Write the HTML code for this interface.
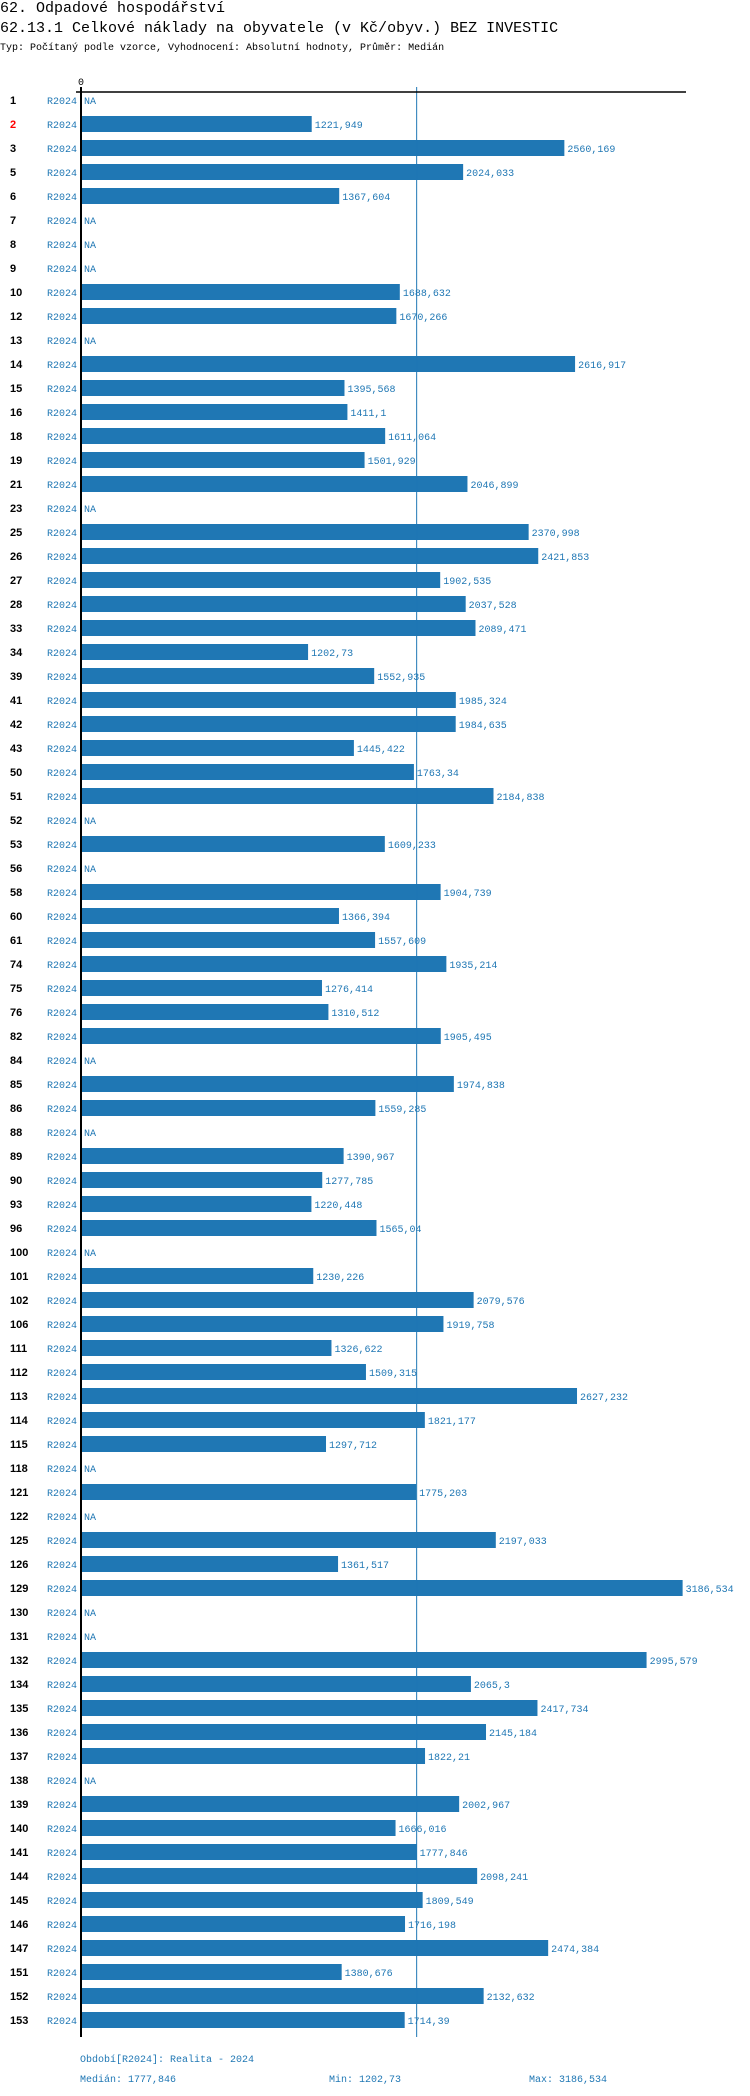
<!DOCTYPE html>
<html><head><meta charset="utf-8">
<style>
body{margin:0;background:#fff;width:750px;height:2096px;overflow:hidden;font-family:"Liberation Mono",monospace;}
.t{position:absolute;left:0;white-space:pre;color:#000}
svg{position:absolute;left:0;top:0}
</style></head><body>
<div class="t" style="top:0px;font-size:15px">62. Odpadové hospodářství</div>
<div class="t" style="top:20px;font-size:15px">62.13.1 Celkové náklady na obyvatele (v Kč/obyv.) BEZ INVESTIC</div>
<div class="t" style="top:43px;font-size:10px">Typ: Počítaný podle vzorce, Vyhodnocení: Absolutní hodnoty, Průměr: Medián</div>
<svg id="chart" width="750" height="2096"></svg>
<script>
const categories=[1,2,3,5,6,7,8,9,10,12,13,14,15,16,18,19,21,23,25,26,27,28,33,34,39,41,42,43,50,51,52,53,56,58,60,61,74,75,76,82,84,85,86,88,89,90,93,96,100,101,102,106,111,112,113,114,115,118,121,122,125,126,129,130,131,132,134,135,136,137,138,139,140,141,144,145,146,147,151,152,153];
const values=[null,1221.949,2560.169,2024.033,1367.604,null,null,null,1688.632,1670.266,null,2616.917,1395.568,1411.1,1611.064,1501.929,2046.899,null,2370.998,2421.853,1902.535,2037.528,2089.471,1202.73,1552.935,1985.324,1984.635,1445.422,1763.34,2184.838,null,1609.233,null,1904.739,1366.394,1557.609,1935.214,1276.414,1310.512,1905.495,null,1974.838,1559.285,null,1390.967,1277.785,1220.448,1565.04,null,1230.226,2079.576,1919.758,1326.622,1509.315,2627.232,1821.177,1297.712,null,1775.203,null,2197.033,1361.517,3186.534,null,null,2995.579,2065.3,2417.734,2145.184,1822.21,null,2002.967,1666.016,1777.846,2098.241,1809.549,1716.198,2474.384,1380.676,2132.632,1714.39];
const highlighted=[2];
const median=1777.846, minV=1202.73, maxV=3186.534;
const NS="http://www.w3.org/2000/svg";
const svg=document.getElementById('chart');
const x0=81, k=0.1888;
function xs(v){return x0+v*k;}
function yc(i){return 100+24*i;}
function fmt(v){return String(v).replace('.',',');}
function mk(tag,attrs,txt){const e=document.createElementNS(NS,tag);for(const a in attrs)e.setAttribute(a,attrs[a]);if(txt!==undefined)e.textContent=txt;svg.appendChild(e);return e;}
const blue="#1f77b4";
categories.forEach((c,i)=>{
  const y=yc(i);
  const lab=mk('text',{x:10,y:y+4,'font-family':'Liberation Sans, sans-serif','font-weight':'bold','font-size':11,fill:highlighted.includes(c)?'#ff0000':'#000'},String(c));
  
  
  const p=mk('text',{x:47,y:y+4,'font-size':10,fill:blue,'font-family':'Liberation Mono, monospace'},'R2024');
  
  
  const v=values[i];
  if(v===null){
    const na=mk('text',{x:84,y:y+4,'font-size':10,fill:blue,'font-family':'Liberation Mono, monospace'},'NA');
    
    
  } else {
    const r=mk('rect',{x:x0+1,y:y-8,width:xs(v)-x0-1,height:16,fill:blue});
    
    
    const t=mk('text',{x:xs(v)+3,y:y+4,'font-size':10,fill:blue,'font-family':'Liberation Mono, monospace'},fmt(v));
    
    
  }
});
const ml=mk('line',{x1:xs(median),x2:xs(median),y1:87,y2:2037,stroke:blue,'stroke-width':1});


const ax=mk('line',{x1:81,x2:81,y1:87,y2:2037,stroke:'#000','stroke-width':2});


const tx=mk('line',{x1:76,x2:686,y1:92,y2:92,stroke:'#000','stroke-width':1.5});


const z=mk('text',{x:78,y:85,'font-size':10,fill:'#000','font-family':'Liberation Mono, monospace'},'0');


const f1=mk('text',{x:80,y:2062,'font-size':10,fill:blue,'font-family':'Liberation Mono, monospace'},'Období[R2024]: Realita - 2024');


const f2=mk('text',{x:80,y:2082,'font-size':10,fill:blue,'font-family':'Liberation Mono, monospace'},'Medián: '+fmt(median));


const f3=mk('text',{x:329,y:2082,'font-size':10,fill:blue,'font-family':'Liberation Mono, monospace'},'Min: '+fmt(minV));


const f4=mk('text',{x:529,y:2082,'font-size':10,fill:blue,'font-family':'Liberation Mono, monospace'},'Max: '+fmt(maxV));


</script>
</body></html>
